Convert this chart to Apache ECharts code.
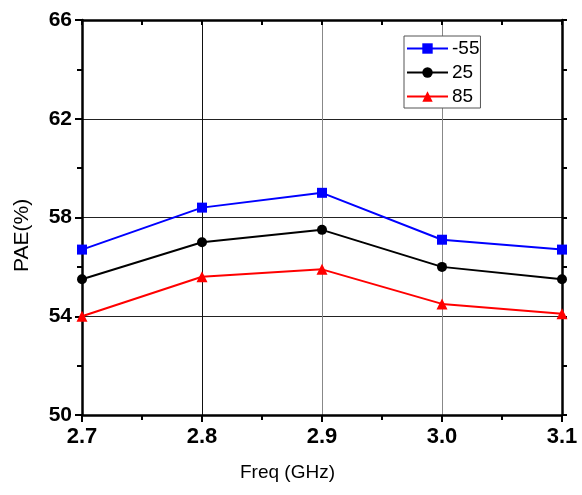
<!DOCTYPE html>
<html>
<head>
<meta charset="utf-8">
<script src="https://cdn.jsdelivr.net/npm/echarts@6/dist/echarts.min.js"></script>
<style>html,body{margin:0;padding:0;background:#fff}#c{width:582px;height:495px}</style>
</head>
<body>
<div id="c"></div>
<script>
var freqs = [2.7, 2.8, 2.9, 3.0, 3.1];
var seriesNames = ['-55', '25', '85'];
var paeM55 = [56.7, 58.4, 59.0, 57.1, 56.7];
var pae25 = [55.5, 57.0, 57.5, 56.0, 55.5];
var pae85 = [54.0, 55.6, 55.9, 54.5, 54.1];
var yTicks = [50, 54, 58, 62, 66];
var xTitle = 'Freq (GHz)';
var yTitle = 'PAE(%)';

function pairs(vals) { return freqs.map(function (f, i) { return [f, vals[i]]; }); }

var chart = echarts.init(document.getElementById('c'), null, {renderer: 'canvas'});
var FONT = '"Liberation Sans", Arial, sans-serif';
var axisLineStyle = {color: '#000', width: 2.5};
chart.setOption({
  animation: false,
  backgroundColor: '#fff',
  grid: {left: 82, right: 20, top: 20, bottom: 80, containLabel: false},
  xAxis: [{
    type: 'value', position: 'bottom', min: 2.7, max: 3.1, interval: 0.1,
    axisLine: {show: true, lineStyle: axisLineStyle},
    axisTick: {show: true, inside: false, length: 7, lineStyle: {color: '#000', width: 2}},
    minorTick: {show: true, splitNumber: 2, length: 5, lineStyle: {color: '#000', width: 2}},
    axisLabel: {show: true, margin: 11, color: '#000', fontFamily: FONT, fontWeight: 'bold', fontSize: 22,
      formatter: function (v) { return v.toFixed(1); }},
    splitLine: {show: true, lineStyle: {color: ['#333', '#111', '#888', '#888', '#333'], width: 1}}
  }, {
    type: 'value', position: 'top', min: 2.7, max: 3.1, interval: 0.1,
    axisLine: {show: true, onZero: false, lineStyle: axisLineStyle},
    axisTick: {show: true, inside: true, length: 5, lineStyle: {color: '#000', width: 2}},
    minorTick: {show: true, splitNumber: 2, length: 5, lineStyle: {color: '#000', width: 2}},
    axisLabel: {show: false},
    splitLine: {show: false}
  }],
  yAxis: [{
    type: 'value', position: 'left', min: yTicks[0], max: yTicks[yTicks.length - 1], interval: 4,
    axisLine: {show: true, onZero: false, lineStyle: axisLineStyle},
    axisTick: {show: true, inside: false, length: 7, lineStyle: {color: '#000', width: 2}},
    minorTick: {show: true, splitNumber: 2, length: 5, lineStyle: {color: '#000', width: 2}},
    axisLabel: {show: true, margin: 10, color: '#000', fontFamily: FONT, fontWeight: 'bold', fontSize: 21},
    splitLine: {show: true, lineStyle: {color: '#222', width: 1}}
  }, {
    type: 'value', position: 'right', min: yTicks[0], max: yTicks[yTicks.length - 1], interval: 4,
    axisLine: {show: true, onZero: false, lineStyle: axisLineStyle},
    axisTick: {show: true, inside: false, length: 5, lineStyle: {color: '#000', width: 2}},
    minorTick: {show: true, splitNumber: 2, length: 5, lineStyle: {color: '#000', width: 2}},
    axisLabel: {show: false},
    splitLine: {show: false}
  }],
  legend: {
    orient: 'vertical', left: 404, top: 36,
    backgroundColor: '#fff', borderColor: '#555', borderWidth: 1,
    padding: [3, 1, 2, 2], itemGap: 5, itemWidth: 41, itemHeight: 13,
    textStyle: {fontFamily: FONT, fontSize: 19, color: '#000', padding: [0, 0, 0, -1]},
    data: seriesNames
  },
  series: [
    {name: seriesNames[0], type: 'line', data: pairs(paeM55), symbol: 'rect', symbolSize: 10,
      itemStyle: {color: '#0000ff'}, lineStyle: {color: '#0000ff', width: 2}},
    {name: seriesNames[1], type: 'line', data: pairs(pae25), symbol: 'circle', symbolSize: 10,
      itemStyle: {color: '#000'}, lineStyle: {color: '#000', width: 2}},
    {name: seriesNames[2], type: 'line', data: pairs(pae85), symbol: 'triangle', symbolSize: 11,
      itemStyle: {color: '#ff0000'}, lineStyle: {color: '#ff0000', width: 2}}
  ],
  graphic: [
    {type: 'text', left: 240, top: 463, style: {text: xTitle, font: '19px ' + FONT, fill: '#000'}},
    {type: 'text', x: 12, y: 272, rotation: Math.PI / 2, style: {text: yTitle, font: '21px ' + FONT, fill: '#000'}}
  ]
});
</script>
</body>
</html>
